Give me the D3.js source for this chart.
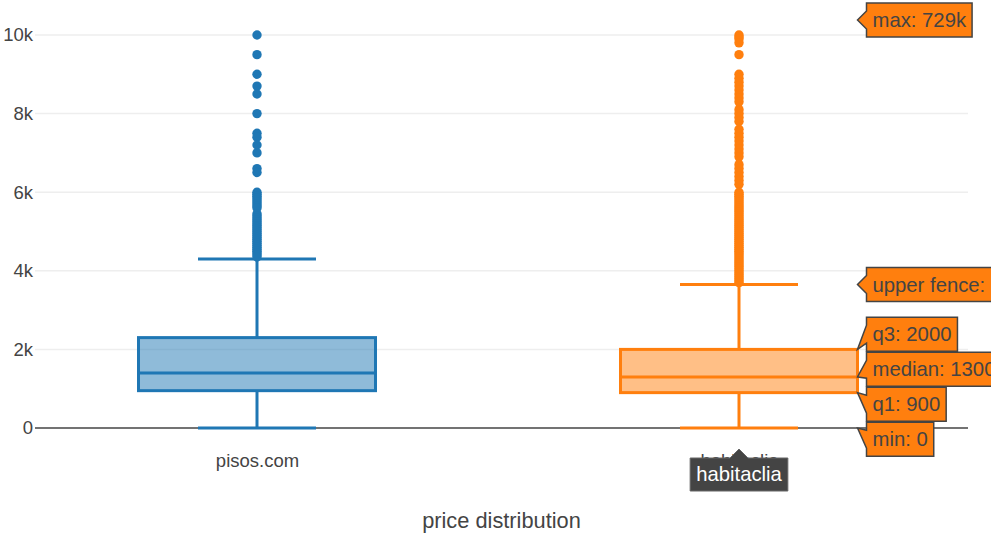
<!DOCTYPE html>
<html>
<head>
<meta charset="utf-8">
<script src="https://cdn.jsdelivr.net/npm/d3@7"></script>
<style>
  html, body { margin: 0; padding: 0; background: #fff; }
  svg { display: block; font-family: "Liberation Sans", Arial, sans-serif; }
</style>
</head>
<body>
<svg id="chart" width="991" height="540"></svg>
<script>
// ---------- data ----------
const categories = ["pisos.com", "habitaclia"];
const colors = ["#1f77b4", "#ff7f0e"];
const fills = ["rgba(31,119,180,0.5)", "rgba(255,127,14,0.5)"];
const lowerFence = [0, 0];
const q1 = [950, 900];
const median = [1400, 1300];
const q3 = [2300, 2000];
const upperFence = [4300, 3650];
const maxValue = [10000, 729000];
const yTicks = [0, 2000, 4000, 6000, 8000, 10000];
const xTitle = "price distribution";

const outliersPisos = [10000, 9500, 9000, 8700, 8500, 8000, 7500, 7400, 7200, 7000, 6600, 6500,
  6000, 5950, 5900, 5850, 5800, 5750, 5700, 5650, 5600, 5450, 5400, 5350, 5300, 5250,
  5200, 5150, 5100, 5050, 5000, 4950, 4900, 4850, 4800, 4750, 4700, 4650, 4600, 4550,
  4500, 4450, 4400, 4350];
const outliersHabitaclia = [729000, 10000, 9950, 9900, 9800, 9500, 9000, 8900, 8800, 8700, 8600,
  8500, 8400, 8300, 8100, 8000, 7900, 7800, 7600, 7500, 7400, 7300, 7200, 7100, 7000,
  6900, 6700, 6600, 6500, 6400, 6300, 6200, 6000, 5950, 5900, 5850, 5800, 5750, 5700,
  5650, 5600, 5550, 5500, 5450, 5400, 5350, 5300, 5250, 5200, 5150, 5100, 5050, 5000,
  4950, 4900, 4850, 4800, 4750, 4700, 4650, 4600, 4550, 4500, 4450, 4400, 4350, 4300,
  4250, 4200, 4150, 4100, 4050, 4000, 3950, 3900, 3850, 3800, 3750, 3700];
const outliers = [outliersPisos, outliersHabitaclia];

// hover labels shown for habitaclia
const hoverNames = ["max", "upper fence", "q3", "median", "q1", "min"];
const hoverValues = [maxValue[1], upperFence[1], q3[1], median[1], q1[1], lowerFence[1]];
const hoverCategory = 1;

// ---------- layout ----------
const svg = d3.select("#chart");
const plot = { left: 35, right: 968, top: 20, bottom: 445 };
const y = d3.scaleLinear().domain([0, 10000]).range([428, 35]);
const x = d3.scalePoint().domain(categories).range([257, 739]);
const boxHalf = 118.5;
const capHalf = 59;
const textColor = "#444";

svg.append("defs").append("clipPath").attr("id", "clip")
  .append("rect").attr("x", plot.left).attr("y", plot.top)
  .attr("width", plot.right - plot.left).attr("height", plot.bottom - plot.top);

// grid
const grid = svg.append("g");
grid.selectAll("line").data(yTicks.filter(d => d !== 0)).join("line")
  .attr("x1", plot.left).attr("x2", plot.right)
  .attr("y1", d => y(d)).attr("y2", d => y(d))
  .attr("stroke", "#eee").attr("stroke-width", 1.5);
grid.append("line")
  .attr("x1", plot.left).attr("x2", plot.right)
  .attr("y1", y(0)).attr("y2", y(0))
  .attr("stroke", textColor).attr("stroke-width", 1.5);

// y axis labels
const yAxis = svg.append("g").attr("transform", `translate(${plot.left - 2},0)`)
  .call(d3.axisLeft(y).tickValues(yTicks).tickSize(0).tickPadding(0)
    .tickFormat(d => d === 0 ? "0" : (d / 1000) + "k"));
yAxis.select(".domain").remove();
yAxis.selectAll("text").attr("font-size", 18.5).attr("fill", textColor)
  .attr("font-family", "Liberation Sans, Arial, sans-serif");

// x axis labels
const xAxis = svg.append("g").attr("transform", `translate(0,${y(0) + 26})`)
  .call(d3.axisBottom(x).tickSize(0).tickPadding(0));
xAxis.select(".domain").remove();
xAxis.selectAll("text").attr("font-size", 18.5).attr("fill", textColor)
  .attr("font-family", "Liberation Sans, Arial, sans-serif");

// x title
svg.append("text").attr("x", (plot.left + plot.right) / 2).attr("y", 528)
  .attr("text-anchor", "middle").attr("font-size", 21.8).attr("fill", textColor)
  .text(xTitle);

// boxes
const boxes = svg.append("g").attr("clip-path", "url(#clip)");
categories.forEach((c, i) => {
  const cx = x(c);
  const g = boxes.append("g");
  const col = colors[i];
  g.append("line").attr("x1", cx).attr("x2", cx).attr("y1", y(q3[i])).attr("y2", y(upperFence[i]))
    .attr("stroke", col).attr("stroke-width", 3);
  g.append("line").attr("x1", cx).attr("x2", cx).attr("y1", y(q1[i])).attr("y2", y(lowerFence[i]))
    .attr("stroke", col).attr("stroke-width", 3);
  g.append("line").attr("x1", cx - capHalf).attr("x2", cx + capHalf)
    .attr("y1", y(upperFence[i])).attr("y2", y(upperFence[i]))
    .attr("stroke", col).attr("stroke-width", 3);
  g.append("line").attr("x1", cx - capHalf).attr("x2", cx + capHalf)
    .attr("y1", y(lowerFence[i])).attr("y2", y(lowerFence[i]))
    .attr("stroke", col).attr("stroke-width", 3);
  g.append("rect").attr("x", cx - boxHalf).attr("width", 2 * boxHalf)
    .attr("y", y(q3[i])).attr("height", y(q1[i]) - y(q3[i]))
    .attr("fill", fills[i]).attr("stroke", col).attr("stroke-width", 3);
  g.append("line").attr("x1", cx - boxHalf).attr("x2", cx + boxHalf)
    .attr("y1", y(median[i])).attr("y2", y(median[i]))
    .attr("stroke", col).attr("stroke-width", 3);
  g.selectAll("circle").data(outliers[i]).join("circle")
    .attr("cx", cx).attr("cy", d => y(d)).attr("r", 4.7)
    .attr("fill", col);
});

// ---------- hover labels (habitaclia) ----------
const arrow = 9, lh = 34, pad = 6, hoverFont = 20.3;
const tipX = x(categories[hoverCategory]) + boxHalf;
let items = hoverNames.map((n, k) => {
  const v = hoverValues[k];
  const txt = n + ": " + (v >= 100000 ? Math.round(v / 1000) + "k" : v);
  const ty = Math.max(plot.top, Math.min(y(0), y(v)));
  return { txt, ty, pos: ty };
});
items.sort((a, b) => a.ty - b.ty);
const step = lh + 1;
let groups = items.map(it => [it]);
let changed = true;
while (changed) {
  changed = false;
  groups.forEach(gp => {
    const mean = d3.mean(gp, d => d.ty);
    gp.forEach((d, k) => d.pos = mean + (k - (gp.length - 1) / 2) * step);
  });
  for (let k = 0; k < groups.length - 1; k++) {
    const a = groups[k], b = groups[k + 1];
    if (b[0].pos - a[a.length - 1].pos < step) {
      groups.splice(k, 2, a.concat(b));
      changed = true;
      break;
    }
  }
}
const hover = svg.append("g");
items.forEach(it => {
  const g = hover.append("g").attr("transform", `translate(${tipX},${it.ty})`);
  const path = g.append("path");
  const off = it.pos - it.ty;
  const t = g.append("text").attr("x", arrow + pad).attr("y", off)
    .attr("dy", "0.35em").attr("font-size", hoverFont).attr("fill", textColor).text(it.txt);
  const w = t.node().getComputedTextLength() + 2 * pad;
  path.attr("d", `M0,0L${arrow},${arrow + off}v${lh / 2 - arrow}h${w}V${off - lh / 2}H${arrow}V${off - arrow}Z`)
    .attr("fill", colors[hoverCategory]).attr("stroke", textColor).attr("stroke-width", 1.5);
});

// x-axis hover label
{
  const cx = x(categories[hoverCategory]);
  const g = svg.append("g").attr("transform", `translate(${cx},${y(0) + 21})`);
  const path = g.append("path");
  const t = g.append("text").attr("x", 0).attr("y", arrow + lh / 2 - 1).attr("dy", "0.35em")
    .attr("text-anchor", "middle").attr("font-size", hoverFont).attr("fill", "#fff")
    .text(categories[hoverCategory]);
  const w = t.node().getComputedTextLength() + 2 * pad;
  path.attr("d", `M0,0L${arrow},${arrow}H${w / 2}V${arrow + lh - 1}H${-w / 2}V${arrow}H${-arrow}Z`)
    .attr("fill", textColor).attr("stroke", "#666").attr("stroke-width", 1);
}
</script>
</body>
</html>
